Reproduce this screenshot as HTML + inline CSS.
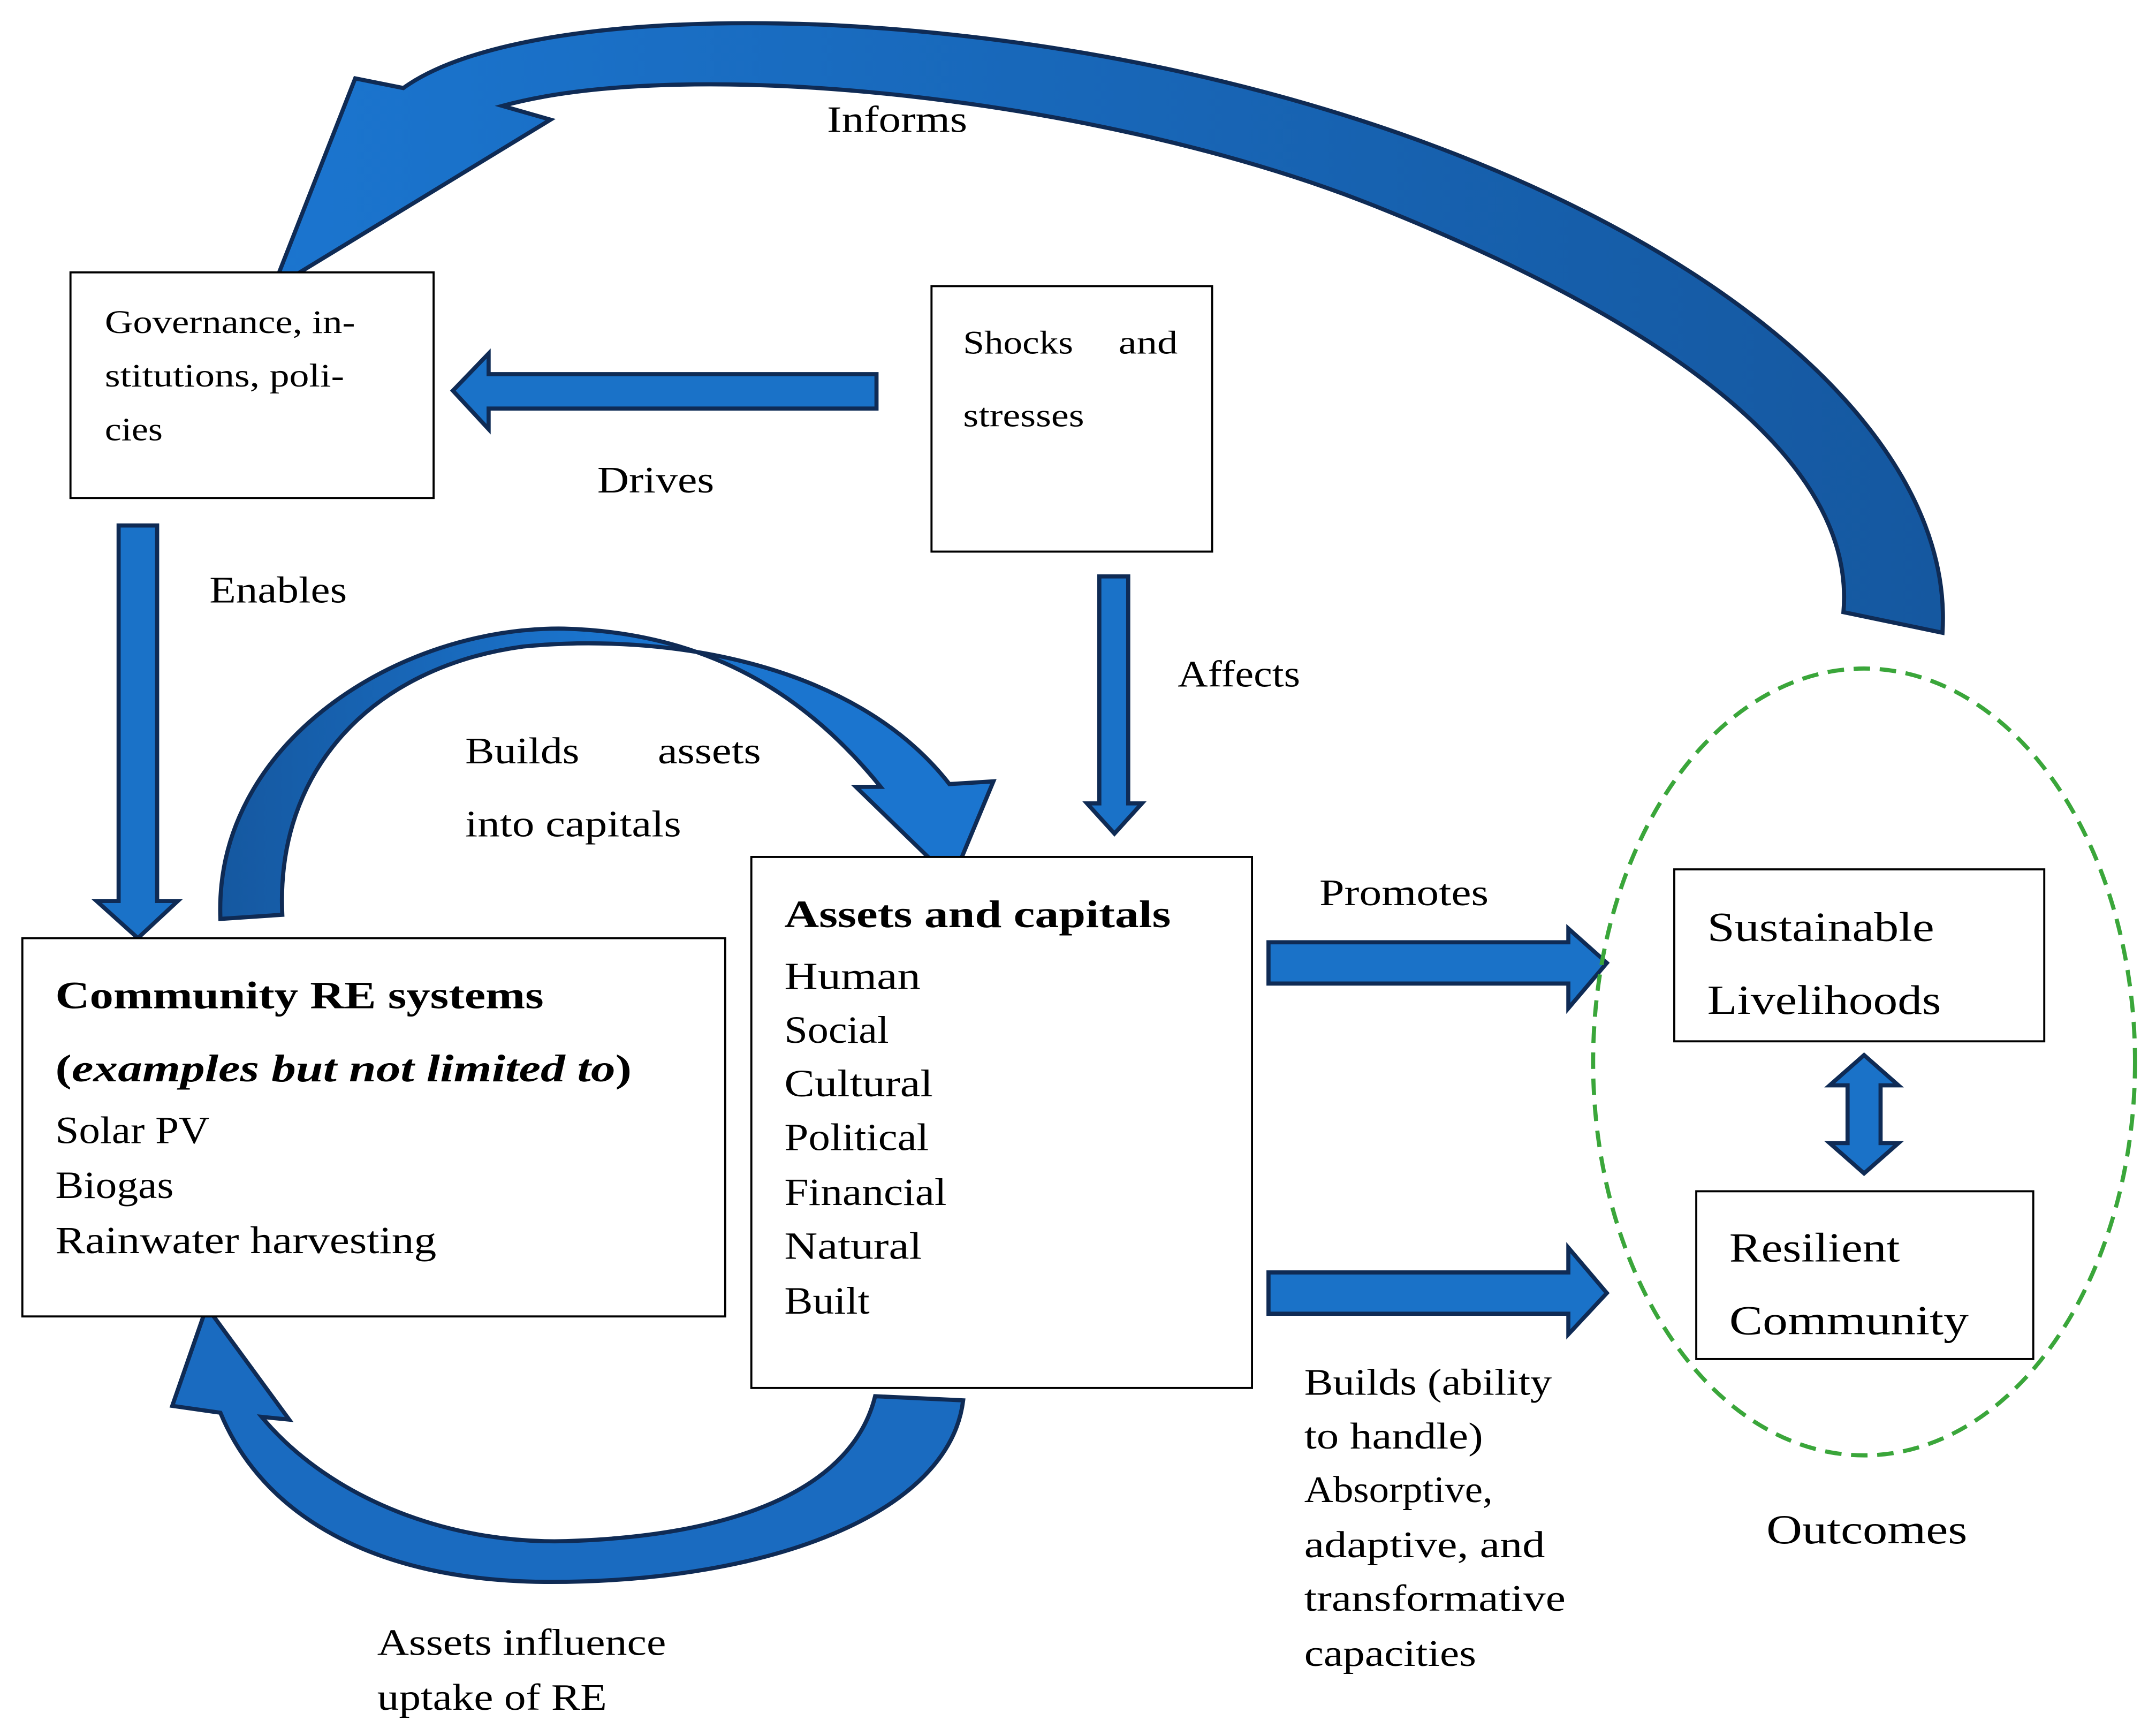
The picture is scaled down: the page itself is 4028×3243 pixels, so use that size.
<!DOCTYPE html>
<html><head><meta charset="utf-8"><style>
html,body{margin:0;padding:0;background:#fff;}
svg{display:block;}
text{font-family:"Liberation Serif",serif;fill:#000;}
</style></head><body>
<svg width="4028" height="3243" viewBox="0 0 1567 1262" xmlns="http://www.w3.org/2000/svg">
<defs>
<linearGradient id="g1" x1="0" y1="0" x2="1" y2="0">
<stop offset="0" stop-color="#1b75cf"/><stop offset="1" stop-color="#1558a0"/></linearGradient>
<linearGradient id="g2" x1="0" y1="0" x2="1" y2="0">
<stop offset="0" stop-color="#1558a0"/><stop offset="0.5" stop-color="#1b75cf"/><stop offset="1" stop-color="#1b75cf"/></linearGradient>
</defs>
<g stroke="#0f2b55" stroke-width="3" stroke-linejoin="miter">
<path fill="url(#g1)" d="M1412,460 C1425,250 1050,40 600,18 C450,12 340,30 293,64 L258,57 L198,210 L400,87 L365,77 C500,40 800,70 1000,150 C1200,230 1350,330 1340,445 Z"/>
<path fill="url(#g2)" d="M160,668 C155,540 290,455 410,457 C520,460 590,510 640,572 L622,572 L692,640 L722,568 L690,570 C620,480 480,460 380,470 C270,485 200,560 205,665 Z"/>
<path fill="#1a6bc0" d="M700,1018 C690,1100 560,1150 400,1150 C270,1150 190,1100 160,1027 L125,1022 L150,950 L210,1032 L190,1030 C240,1090 330,1125 420,1120 C540,1115 620,1080 636,1015 Z"/>
<g fill="#1a72c8">
<path d="M637,272 L355,272 L355,257 L329,284 L355,312 L355,297 L637,297 Z"/>
<path d="M86,382 L114,382 L114,655 L129,655 L100,682 L70,655 L86,655 Z"/>
<path d="M799,419 L820,419 L820,584 L830,584 L810,606 L790,584 L799,584 Z"/>
<path d="M922,685 L1140,685 L1140,675 L1168,700 L1140,733 L1140,715 L922,715 Z"/>
<path d="M922,925 L1140,925 L1140,907 L1168,940 L1140,970 L1140,955 L922,955 Z"/>
<path d="M1355,767 L1380,789 L1367,789 L1367,831 L1380,831 L1355,853 L1330,831 L1343,831 L1343,789 L1330,789 Z"/>
</g>
</g>
<g fill="#fff" stroke="#000" stroke-width="1.5">
<rect x="51" y="198" width="264" height="164"/>
<rect x="677" y="208" width="204" height="193"/>
<rect x="16" y="682" width="511" height="275"/>
<rect x="546" y="623" width="364" height="386"/>
<rect x="1217" y="632" width="269" height="125"/>
<rect x="1233" y="866" width="245" height="122"/>
</g>
<ellipse cx="1355" cy="772" rx="197" ry="286" fill="none" stroke="#3aa63a" stroke-width="3" stroke-dasharray="12,7"/>
<g font-size="24" lengthAdjust="spacingAndGlyphs">
<text x="76" y="242" textLength="182" lengthAdjust="spacingAndGlyphs">Governance, in-</text>
<text x="76" y="281" textLength="174" lengthAdjust="spacingAndGlyphs">stitutions, poli-</text>
<text x="76" y="320" textLength="42" lengthAdjust="spacingAndGlyphs">cies</text>
<text x="700" y="257" textLength="80" lengthAdjust="spacingAndGlyphs">Shocks</text>
<text x="813" y="257" textLength="43" lengthAdjust="spacingAndGlyphs">and</text>
<text x="700" y="310" textLength="88" lengthAdjust="spacingAndGlyphs">stresses</text>
</g>
<g font-size="28">
<text x="40" y="733" font-weight="bold" textLength="355" lengthAdjust="spacingAndGlyphs">Community RE systems</text>
<text x="40" y="786" font-weight="bold" textLength="419" lengthAdjust="spacingAndGlyphs">(<tspan font-style="italic">examples but not limited to</tspan>)</text>
<text x="40" y="831" textLength="112" lengthAdjust="spacingAndGlyphs">Solar PV</text>
<text x="40" y="871" textLength="86" lengthAdjust="spacingAndGlyphs">Biogas</text>
<text x="40" y="911" textLength="277" lengthAdjust="spacingAndGlyphs">Rainwater harvesting</text>
<text x="570" y="674" font-weight="bold" textLength="281" lengthAdjust="spacingAndGlyphs">Assets and capitals</text>
<text x="570" y="719" textLength="99" lengthAdjust="spacingAndGlyphs">Human</text>
<text x="570" y="758" textLength="76" lengthAdjust="spacingAndGlyphs">Social</text>
<text x="570" y="797" textLength="108" lengthAdjust="spacingAndGlyphs">Cultural</text>
<text x="570" y="836" textLength="105" lengthAdjust="spacingAndGlyphs">Political</text>
<text x="570" y="876" textLength="118" lengthAdjust="spacingAndGlyphs">Financial</text>
<text x="570" y="915" textLength="100" lengthAdjust="spacingAndGlyphs">Natural</text>
<text x="570" y="955" textLength="62" lengthAdjust="spacingAndGlyphs">Built</text>
</g>
<g font-size="30">
<text x="1241" y="684" textLength="165" lengthAdjust="spacingAndGlyphs">Sustainable</text>
<text x="1241" y="737" textLength="170" lengthAdjust="spacingAndGlyphs">Livelihoods</text>
<text x="1257" y="917" textLength="124" lengthAdjust="spacingAndGlyphs">Resilient</text>
<text x="1257" y="970" textLength="174" lengthAdjust="spacingAndGlyphs">Community</text>
<text x="1284" y="1122" textLength="146" lengthAdjust="spacingAndGlyphs">Outcomes</text>
</g>
<g font-size="27">
<text x="601" y="96" textLength="102" lengthAdjust="spacingAndGlyphs">Informs</text>
<text x="434" y="358" textLength="85" lengthAdjust="spacingAndGlyphs">Drives</text>
<text x="152" y="438" textLength="100" lengthAdjust="spacingAndGlyphs">Enables</text>
<text x="856" y="499" textLength="89" lengthAdjust="spacingAndGlyphs">Affects</text>
<text x="338" y="555" textLength="83" lengthAdjust="spacingAndGlyphs">Builds</text>
<text x="478" y="555" textLength="75" lengthAdjust="spacingAndGlyphs">assets</text>
<text x="338" y="608" textLength="157" lengthAdjust="spacingAndGlyphs">into capitals</text>
<text x="959" y="658" textLength="123" lengthAdjust="spacingAndGlyphs">Promotes</text>
<text x="948" y="1014" textLength="180" lengthAdjust="spacingAndGlyphs">Builds (ability</text>
<text x="948" y="1053" textLength="130" lengthAdjust="spacingAndGlyphs">to handle)</text>
<text x="948" y="1092" textLength="137" lengthAdjust="spacingAndGlyphs">Absorptive,</text>
<text x="948" y="1132" textLength="175" lengthAdjust="spacingAndGlyphs">adaptive, and</text>
<text x="948" y="1171" textLength="190" lengthAdjust="spacingAndGlyphs">transformative</text>
<text x="948" y="1211" textLength="125" lengthAdjust="spacingAndGlyphs">capacities</text>
<text x="274" y="1203" textLength="210" lengthAdjust="spacingAndGlyphs">Assets influence</text>
<text x="274" y="1243" textLength="167" lengthAdjust="spacingAndGlyphs">uptake of RE</text>
</g>
</svg>
</body></html>
